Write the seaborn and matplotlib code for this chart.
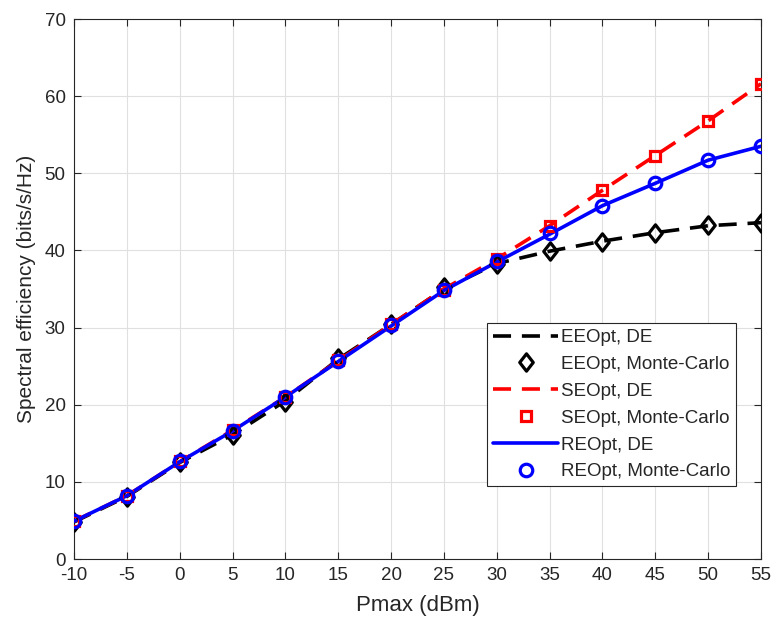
import numpy as np
import pandas as pd
import seaborn as sns
import matplotlib.pyplot as plt
from matplotlib.path import Path

pmax = [-10, -5, 0, 5, 10, 15, 20, 25, 30, 35, 40, 45, 50, 55]
ee_de = [4.8, 8.1, 12.5, 16.1, 20.5, 25.9, 30.4, 35.0, 38.3, 39.9, 41.2, 42.3, 43.2, 43.6]
ee_mc = [4.8, 8.0, 12.6, 16.1, 20.4, 26.1, 30.5, 35.2, 38.3, 39.9, 41.1, 42.3, 43.3, 43.6]
se_de = [4.9, 8.2, 12.6, 16.7, 21.0, 25.7, 30.4, 35.0, 38.9, 43.2, 47.8, 52.3, 56.8, 61.6]
se_mc = [4.9, 8.2, 12.7, 16.7, 21.0, 25.8, 30.4, 34.9, 38.9, 43.2, 47.8, 52.3, 56.8, 61.6]
re_de = [4.9, 8.2, 12.6, 16.6, 21.0, 25.6, 30.2, 34.8, 38.5, 42.1, 45.8, 48.7, 51.7, 53.5]
re_mc = [4.9, 8.2, 12.7, 16.6, 21.0, 25.7, 30.3, 34.9, 38.6, 42.2, 45.8, 48.7, 51.7, 53.5]

sns.set_style("whitegrid")
plt.rcParams['font.family'] = ['Liberation Sans', 'DejaVu Sans']
plt.rcParams['axes.unicode_minus'] = False

# matlab-like diamond (wider than matplotlib's thin diamond)
diamond = Path([(0, 1), (0.78, 0), (0, -1), (-0.78, 0), (0, 1)],
               [Path.MOVETO, Path.LINETO, Path.LINETO, Path.LINETO, Path.CLOSEPOLY])

fig = plt.figure(figsize=(7.74, 6.25), dpi=100)
ax = fig.add_axes([0.0956, 0.1056, 0.8876, 0.864])

lw = 2.6
sns.lineplot(x=pmax, y=ee_de, ax=ax, color='black', lw=lw, label='EEOpt, DE', zorder=3)
ax.lines[-1].set_dashes((5, 3))
sns.lineplot(x=pmax, y=ee_mc, ax=ax, color='black', linestyle='none', marker=diamond,
             markersize=12.5, markerfacecolor='none', markeredgecolor='black',
             markeredgewidth=2.3, label='EEOpt, Monte-Carlo', zorder=4)
sns.lineplot(x=pmax, y=se_de, ax=ax, color='red', lw=lw, label='SEOpt, DE', zorder=3)
ax.lines[-1].set_dashes((5, 3))
sns.lineplot(x=pmax, y=se_mc, ax=ax, color='red', linestyle='none', marker='s',
             markersize=7.5, markerfacecolor='none', markeredgecolor='red',
             markeredgewidth=2.3, label='SEOpt, Monte-Carlo', zorder=4)
sns.lineplot(x=pmax, y=re_de, ax=ax, color='blue', lw=lw, label='REOpt, DE', zorder=3)
sns.lineplot(x=pmax, y=re_mc, ax=ax, color='blue', linestyle='none', marker='o',
             markersize=9, markerfacecolor='none', markeredgecolor='blue',
             markeredgewidth=2.3, label='REOpt, Monte-Carlo', zorder=5)

ax.set_xlim(-10, 55)
ax.set_ylim(0, 70)
ax.set_xticks(pmax)
ax.set_yticks(range(0, 71, 10))
ax.set_xlabel('Pmax (dBm)', fontsize=16, labelpad=8)
ax.set_ylabel('Spectral efficiency (bits/s/Hz)', fontsize=15, labelpad=6)
ax.tick_params(labelsize=13.5, direction='in', length=5, top=True, right=True,
               bottom=True, left=True, color='#262626', labelcolor='#262626', pad=6)
ax.grid(True, color='#e0e0e0', lw=0.8)
for s in ax.spines.values():
    s.set_color('#262626')
    s.set_linewidth(0.8)

leg = ax.legend(loc='lower right', bbox_to_anchor=(0.964, 0.135), fontsize=13.5,
                frameon=True, fancybox=False, handlelength=3.5, labelspacing=0.52,
                borderpad=0.3, handletextpad=0.15, borderaxespad=0)
leg.get_frame().set_edgecolor('#262626')
leg.get_frame().set_linewidth(0.8)
leg.get_frame().set_alpha(1)

fig.savefig('out.png', dpi=100)
